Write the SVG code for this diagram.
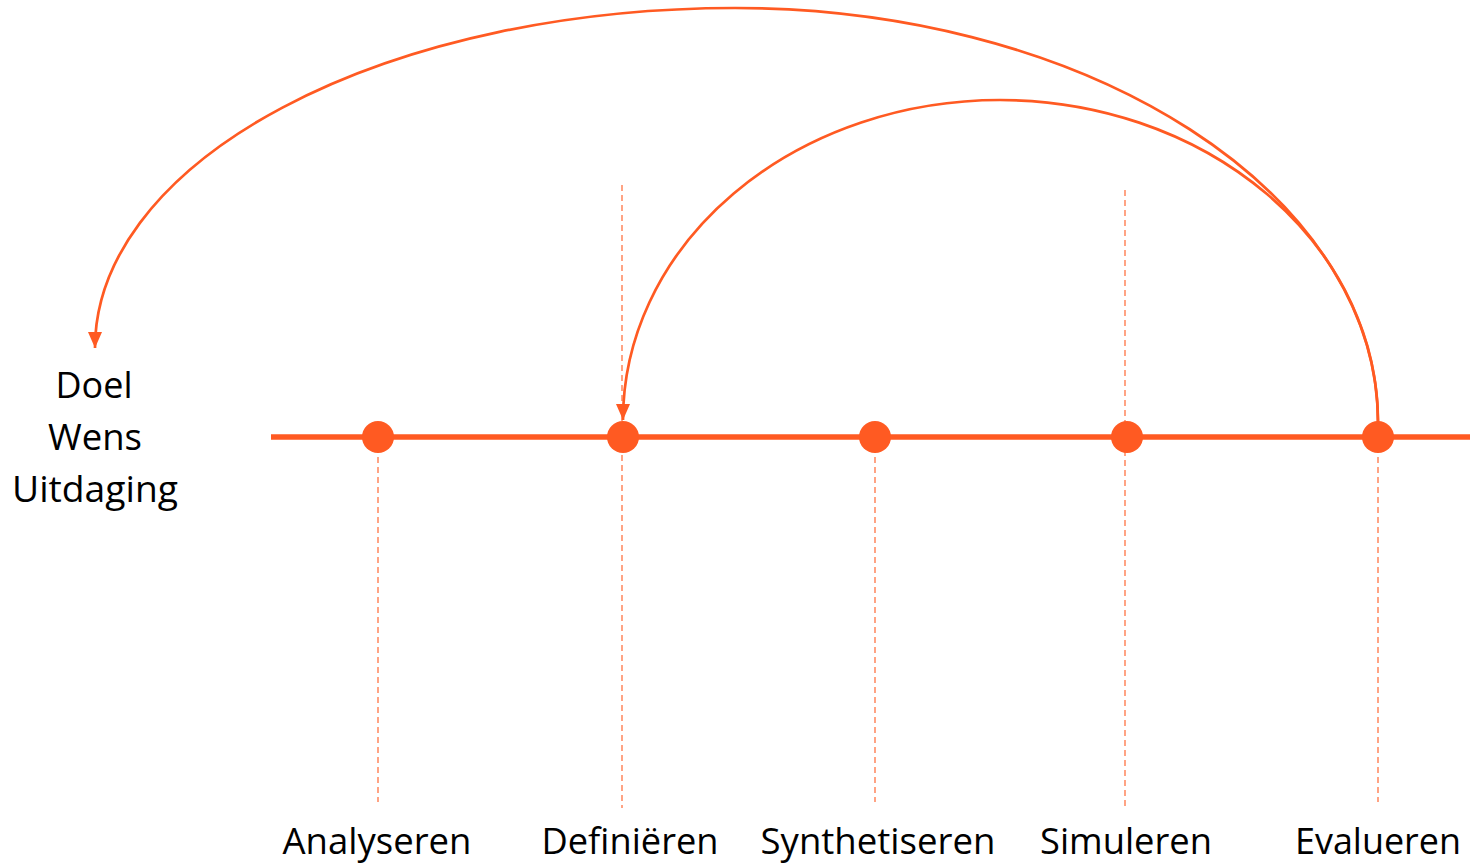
<svg xmlns="http://www.w3.org/2000/svg" width="1470" height="866" viewBox="0 0 1470 866">
<style>
.guide{stroke:#FF5A22;stroke-width:1.3;stroke-dasharray:6 4;fill:none;opacity:0.85}
.axis{stroke:#FF5A22;stroke-width:5.5;fill:none}
.dot{fill:#FF5A22}
.arc{stroke:#FF5A22;stroke-width:2.7;fill:none}
.lbl{font-family:"Open Sans","Noto Sans",sans-serif;font-size:37px;fill:#000;text-anchor:middle}
</style>
<defs>
<marker id="ah" markerUnits="userSpaceOnUse" markerWidth="18" markerHeight="18" viewBox="0 0 18 18" refX="16" refY="9" orient="auto">
<path d="M0,2 L16,9 L0,16 Z" fill="#FF5A22"/>
</marker>
</defs>
<g id="guides">
<line class="guide" x1="378" y1="437" x2="378" y2="802"/>
<line class="guide" x1="622" y1="185" x2="622" y2="808"/>
<line class="guide" x1="875" y1="437" x2="875" y2="802"/>
<line class="guide" x1="1125" y1="190" x2="1125" y2="806"/>
<line class="guide" x1="1378" y1="437" x2="1378" y2="802"/>
</g>
<g id="axis">
<line class="axis" x1="271" y1="437" x2="1470" y2="437"/>
</g>
<g id="connectors">
<path class="arc" d="M1378,422 A643,414 0 0 0 735,8 A640,340 0 0 0 95,348" marker-end="url(#ah)"/>
<path class="arc" d="M1378,422 A378,322 0 0 0 1000,100 A377,320 0 0 0 623,420" marker-end="url(#ah)"/>
</g>
<g id="node-analyseren">
<circle class="dot" cx="378" cy="437" r="16"/>
<text class="lbl" x="377" y="854" textLength="189" lengthAdjust="spacingAndGlyphs">Analyseren</text>
</g>
<g id="node-definieren">
<circle class="dot" cx="623" cy="437" r="16"/>
<text class="lbl" x="630" y="854" textLength="177" lengthAdjust="spacingAndGlyphs">Definiëren</text>
</g>
<g id="node-synthetiseren">
<circle class="dot" cx="875" cy="437" r="16"/>
<text class="lbl" x="878" y="854" textLength="235" lengthAdjust="spacingAndGlyphs">Synthetiseren</text>
</g>
<g id="node-simuleren">
<circle class="dot" cx="1127" cy="437" r="16"/>
<text class="lbl" x="1126" y="854" textLength="172" lengthAdjust="spacingAndGlyphs">Simuleren</text>
</g>
<g id="node-evalueren">
<circle class="dot" cx="1378" cy="437" r="16"/>
<text class="lbl" x="1378" y="854" textLength="166" lengthAdjust="spacingAndGlyphs">Evalueren</text>
</g>
<g id="node-doel">
<text class="lbl" x="94" y="398" textLength="77" lengthAdjust="spacingAndGlyphs">Doel</text>
<text class="lbl" x="95" y="450" textLength="94" lengthAdjust="spacingAndGlyphs">Wens</text>
<text class="lbl" x="95" y="502" textLength="166" lengthAdjust="spacingAndGlyphs">Uitdaging</text>
</g>
</svg>
